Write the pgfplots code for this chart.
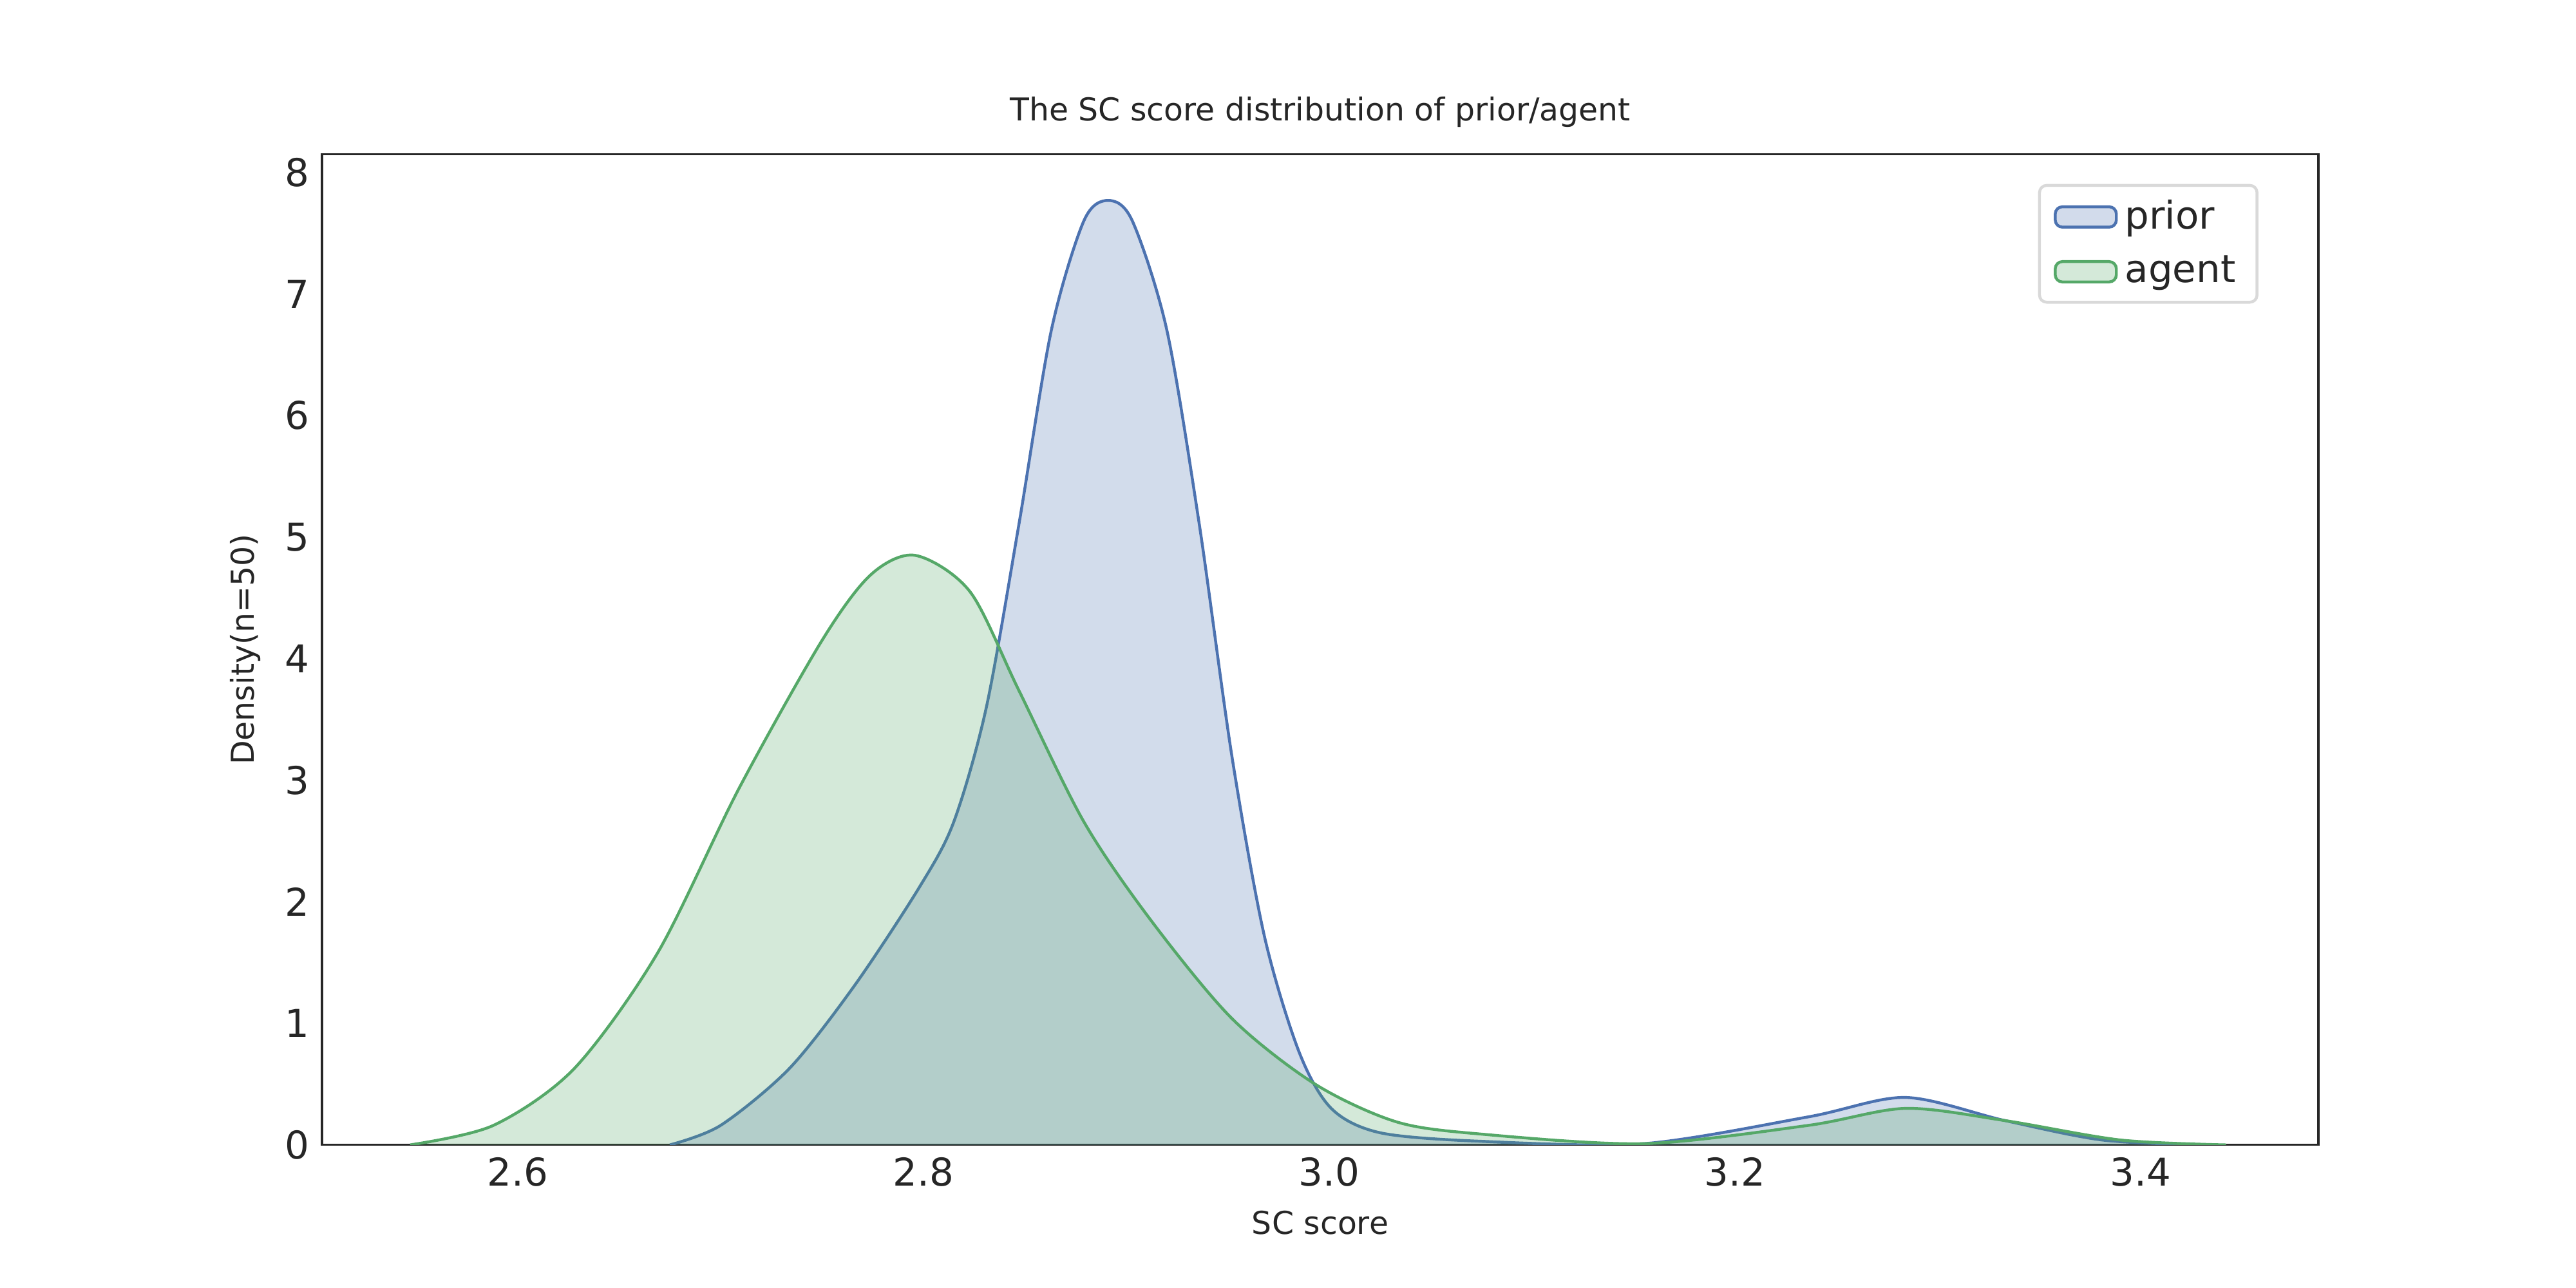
\documentclass[border=0pt]{standalone}
\usepackage{pgfplots}
\pgfplotsset{compat=1.18}
\usepackage{fontspec}
\setmainfont{DejaVu Sans}
\definecolor{cprior}{HTML}{4C72B0}
\definecolor{cagent}{HTML}{55A868}
\definecolor{txt}{HTML}{262626}
\begin{document}
\begin{tikzpicture}
\useasboundingbox (-90pt,-39.9pt) rectangle (629.8pt,319.9pt);
\begin{axis}[
  at={(0,0)}, anchor=south west,
  scale only axis, width=557.8pt, height=276.8pt,
  xmin=2.5036, xmax=3.4875, ymin=0, ymax=8.15,
  xtick={2.6,2.8,3.0,3.2,3.4}, ytick={0,1,...,8},
  xticklabels={2.6,2.8,3.0,3.2,3.4},
  major tick length=0pt,
  tick label style={font=\fontsize{10.7}{12}\selectfont, color=txt},
  /pgf/number format/assume math mode=true,
  axis line style={color=txt, line width=0.6pt},
  title={The SC score distribution of prior/agent},
  title style={font=\fontsize{8.8}{10}\selectfont, color=txt, yshift=-2pt},
  xlabel={SC score}, ylabel={Density(n=50)},
  label style={font=\fontsize{8.8}{10}\selectfont, color=txt},
  legend pos=north east,
  legend style={font=\fontsize{10.7}{12}\selectfont, draw=black!15, rounded corners=2pt, line width=0.8pt, text=txt, row sep=2pt, inner xsep=4pt},
  legend cell align=left,
  area legend,
]
\addplot[color=cprior, line width=0.8pt, fill=cprior, fill opacity=0.25, draw opacity=1, smooth] coordinates {
(2.675,0) (2.70,0.16) (2.734,0.63) (2.766,1.31) (2.798,2.12) (2.815,2.66) (2.831,3.6) (2.847,5.1) (2.863,6.7) (2.879,7.6) (2.891,7.77) (2.903,7.6) (2.92,6.7) (2.936,5.1) (2.952,3.2) (2.968,1.72) (2.985,0.77) (3.001,0.3) (3.025,0.1) (3.074,0.03) (3.155,0.01) (3.236,0.23) (3.284,0.39) (3.333,0.2) (3.381,0.04) (3.43,0)};
\addlegendentry{prior}
\addplot[color=cagent, line width=0.8pt, fill=cagent, fill opacity=0.25, draw opacity=1, smooth] coordinates {
(2.547,0) (2.588,0.16) (2.628,0.63) (2.669,1.58) (2.709,2.93) (2.75,4.15) (2.774,4.69) (2.796,4.85) (2.823,4.55) (2.847,3.74) (2.879,2.66) (2.912,1.85) (2.952,1.04) (2.993,0.5) (3.033,0.19) (3.074,0.09) (3.155,0.01) (3.236,0.16) (3.284,0.3) (3.333,0.2) (3.39,0.04) (3.442,0)};
\addlegendentry{agent}
\end{axis}
\end{tikzpicture}
\end{document}
